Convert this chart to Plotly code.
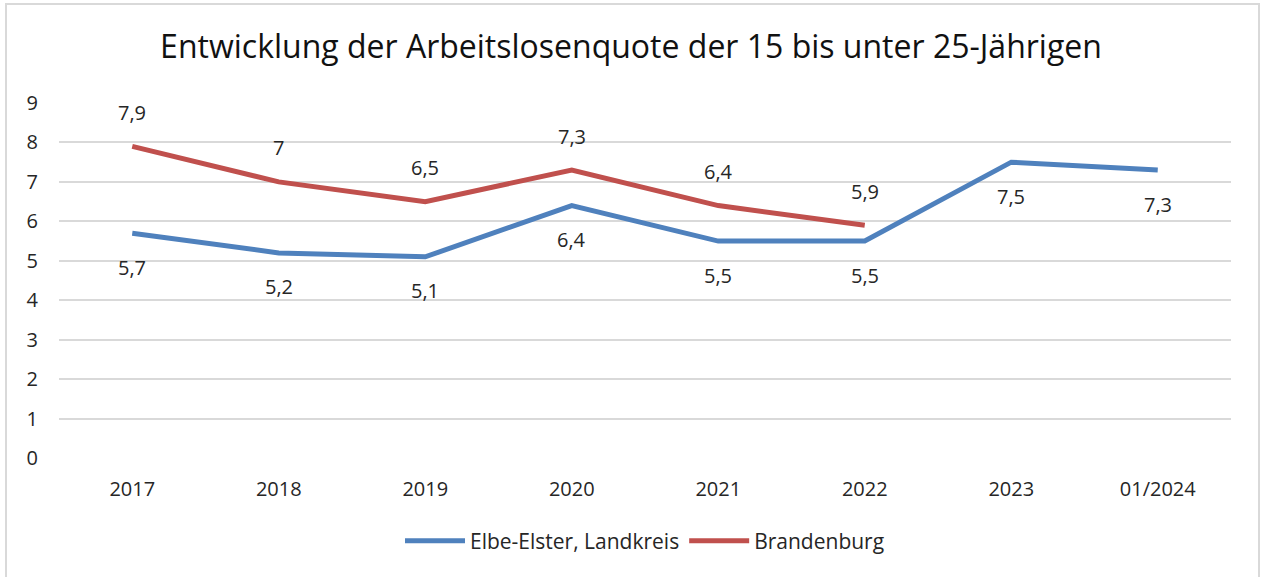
import plotly.graph_objects as go

categories = ["2017", "2018", "2019", "2020", "2021", "2022", "2023", "01/2024"]
elbe_elster = [5.7, 5.2, 5.1, 6.4, 5.5, 5.5, 7.5, 7.3]
brandenburg = [7.9, 7.0, 6.5, 7.3, 6.4, 5.9, None, None]
y_ticks = [0, 1, 2, 3, 4, 5, 6, 7, 8, 9]

BLUE = "#4F81BD"
RED = "#C0504D"
FONT = "'Open Sans', sans-serif"
TXT = "#262626"

def fmt(v):
    s = f"{v:.1f}".replace(".", ",")
    return s[:-2] if s.endswith(",0") else s

fig = go.Figure()
fig.add_trace(go.Scatter(x=categories, y=elbe_elster, mode="lines",
                         name="Elbe-Elster, Landkreis",
                         line=dict(color=BLUE, width=5),
                         hoverinfo="x+y"))
fig.add_trace(go.Scatter(x=categories, y=brandenburg, mode="lines",
                         name="Brandenburg",
                         line=dict(color=RED, width=5),
                         hoverinfo="x+y"))

annotations = []
for i, v in enumerate(elbe_elster):
    if v is not None:
        annotations.append(dict(x=i, y=v, xref="x", yref="y", text=fmt(v),
                                showarrow=False, yshift=-34,
                                font=dict(family=FONT, size=20, color=TXT)))
for i, v in enumerate(brandenburg):
    if v is not None:
        annotations.append(dict(x=i, y=v, xref="x", yref="y", text=fmt(v),
                                showarrow=False, yshift=34,
                                font=dict(family=FONT, size=20, color=TXT)))

# plot area: x 59..1231, y 103..458
L, R, T, B = 59, 31, 103, 119
W, H = 1262, 577
pw, ph = W - L - R, H - T - B

fig.update_layout(
    width=W, height=H,
    margin=dict(l=L, r=R, t=T, b=B),
    paper_bgcolor="white", plot_bgcolor="white",
    title=dict(text="Entwicklung der Arbeitslosenquote der 15 bis unter 25-Jährigen",
               x=0.5, xanchor="center", y=1 - 47 / H, yanchor="middle",
               font=dict(family=FONT, size=32, color="#111111")),
    xaxis=dict(type="category", categoryorder="array", categoryarray=categories,
               range=[-0.5, len(categories) - 0.5],
               showgrid=False, zeroline=False, showline=False, ticks="",
               ticklabelstandoff=17,
               tickfont=dict(family=FONT, size=20, color=TXT)),
    yaxis=dict(range=[0, 9], tickvals=y_ticks, showgrid=True,
               gridcolor="#D9D9D9", gridwidth=2, zeroline=False,
               showline=False, ticks="", ticklabelstandoff=20,
               tickfont=dict(family=FONT, size=20, color=TXT)),
    legend=dict(orientation="h", x=0.5, xanchor="center",
                y=-(541 - 458) / ph, yanchor="middle",
                font=dict(family=FONT, size=21, color=TXT),
                itemwidth=60, tracegroupgap=0),
    annotations=annotations,
    showlegend=True,
    shapes=[dict(type="rect", xref="paper", yref="paper",
                 x0=(6 - L) / pw, x1=(1259 - L) / pw,
                 y0=(458 - 590) / ph, y1=(458 - 4) / ph,
                 line=dict(color="#D9D9D9", width=2), fillcolor="rgba(0,0,0,0)",
                 layer="below")],
)

fig.write_html("out.html", config={"displayModeBar": False},
               post_script="document.body.style.margin='0';document.body.style.padding='0';")
